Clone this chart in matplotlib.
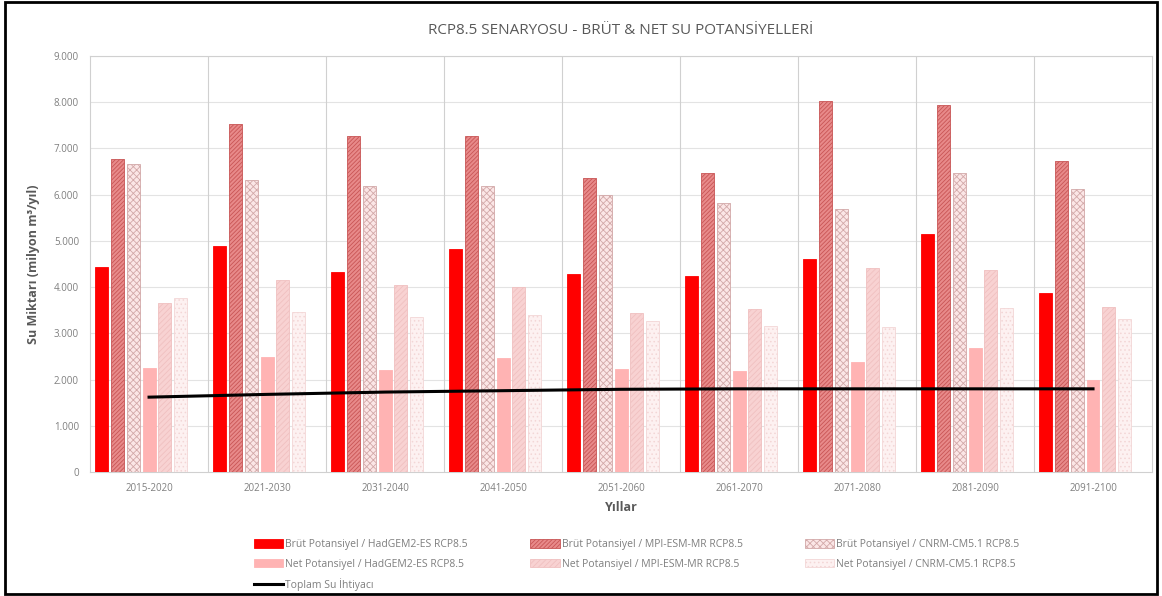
import numpy as np
import matplotlib
matplotlib.use("Agg")
import matplotlib.pyplot as plt
from matplotlib.patches import Rectangle
from matplotlib.ticker import FuncFormatter

plt.rcParams['font.family'] = ['Open Sans', 'DejaVu Sans']
plt.rcParams['hatch.linewidth'] = 0.6

# periods on the x axis
periods = ['2015-2020', '2021-2030', '2031-2040', '2041-2050', '2051-2060',
           '2061-2070', '2071-2080', '2081-2090', '2091-2100']

# gross potential (million m3/year)
brut_hadgem = [4440, 4890, 4320, 4830, 4280, 4240, 4600, 5140, 3870]
brut_mpi = [6770, 7530, 7270, 7280, 6370, 6460, 8020, 7930, 6730]
brut_cnrm = [6660, 6320, 6190, 6190, 5990, 5810, 5700, 6460, 6120]

# net potential (million m3/year)
net_hadgem = [2240, 2480, 2210, 2470, 2230, 2190, 2390, 2680, 1990]
net_mpi = [3650, 4160, 4040, 4000, 3450, 3530, 4420, 4370, 3580]
net_cnrm = [3760, 3470, 3360, 3400, 3270, 3170, 3130, 3540, 3310]

# total water demand
toplam = [1620, 1680, 1730, 1760, 1790, 1800, 1800, 1800, 1800]

labels = ['Brüt Potansiyel / HadGEM2-ES RCP8.5',
          'Brüt Potansiyel / MPI-ESM-MR RCP8.5',
          'Brüt Potansiyel / CNRM-CM5.1 RCP8.5',
          'Net Potansiyel / HadGEM2-ES RCP8.5',
          'Net Potansiyel / MPI-ESM-MR RCP8.5',
          'Net Potansiyel / CNRM-CM5.1 RCP8.5']
line_label = 'Toplam Su İhtiyacı'

series = [brut_hadgem, brut_mpi, brut_cnrm, net_hadgem, net_mpi, net_cnrm]
# (face, edge, hatch)
styles = [('#ff0000', '#ff0000', None),
          ('#e88a8a', '#c85555', '////////'),
          ('#fbe6e6', '#d2a8a8', 'xxxxx'),
          ('#ffb3b3', '#ffb3b3', None),
          ('#f8d2d2', '#f0c0c0', '//////'),
          ('#fdf1f1', '#f3d6d6', '....')]

fig = plt.figure(figsize=(11.62, 5.96), dpi=100)
ax = fig.add_axes([0.0775, 0.208, 0.9139, 0.698])

x = np.arange(len(periods))
slot = 0.134   # 7 slots per group, the 7th left empty like the source chart
width = 0.11
handles = {}
for i, (vals, (fc, ec, h)) in enumerate(zip(series, styles)):
    off = (i - 3) * slot
    b = ax.bar(x + off, vals, width, color=fc, edgecolor=ec, hatch=h,
               linewidth=0.6, zorder=3, label=labels[i])
    handles[i] = b

ln, = ax.plot(x, toplam, color='black', linewidth=2.2, zorder=5, label=line_label)

ax.set_xlim(-0.5, len(periods) - 0.5)
ax.set_ylim(0, 9000)
ax.set_yticks(np.arange(0, 9001, 1000))
ax.yaxis.set_major_formatter(FuncFormatter(lambda v, p: '0' if v == 0 else f'{int(v):,}'.replace(',', '.')))
ax.set_xticks(x)
ax.set_xticklabels(periods)
ax.tick_params(axis='both', length=0, labelsize=7, colors='#7f7f7f', pad=8)

# grid: horizontal at each 1000, vertical at group boundaries
for yv in range(1000, 9001, 1000):
    ax.axhline(yv, color='#e3e3e3', linewidth=0.8, zorder=0)
for xv in np.arange(0.5, len(periods) - 0.5, 1):
    ax.axvline(xv, color='#d0d0d0', linewidth=0.8, zorder=0)
for side in ['top', 'right', 'left']:
    ax.spines[side].set_color('#d0d0d0')
    ax.spines[side].set_linewidth(0.8)
ax.spines['bottom'].set_color('#d0d0d0')

ax.set_title('RCP8.5 SENARYOSU - BRÜT & NET SU POTANSİYELLERİ', fontsize=11,
             color='#595959', pad=16)
ax.set_xlabel('Yıllar', fontsize=9, fontweight='bold', color='#595959', labelpad=5)
ax.set_ylabel('Su Miktarı (milyon m³/yıl)', fontsize=9, fontweight='bold',
              color='#595959', labelpad=10)

order = [handles[0], handles[3], ln, handles[1], handles[4], handles[2], handles[5]]
order_labels = [labels[0], labels[3], line_label, labels[1], labels[4], labels[2], labels[5]]
leg = fig.legend(order, order_labels, ncol=3, loc='lower center',
                 bbox_to_anchor=(0.548, -0.008), frameon=False, fontsize=7.5,
                 labelcolor='#7f7f7f', handlelength=2.8, handleheight=0.9,
                 handletextpad=0.2, columnspacing=6.0, labelspacing=0.85)

# outer frame around the whole picture
fig.patches.append(Rectangle((0.004, 0.004), 0.992, 0.992, transform=fig.transFigure,
                             fill=False, edgecolor='black', linewidth=2))

fig.savefig('out.png', dpi=100)
